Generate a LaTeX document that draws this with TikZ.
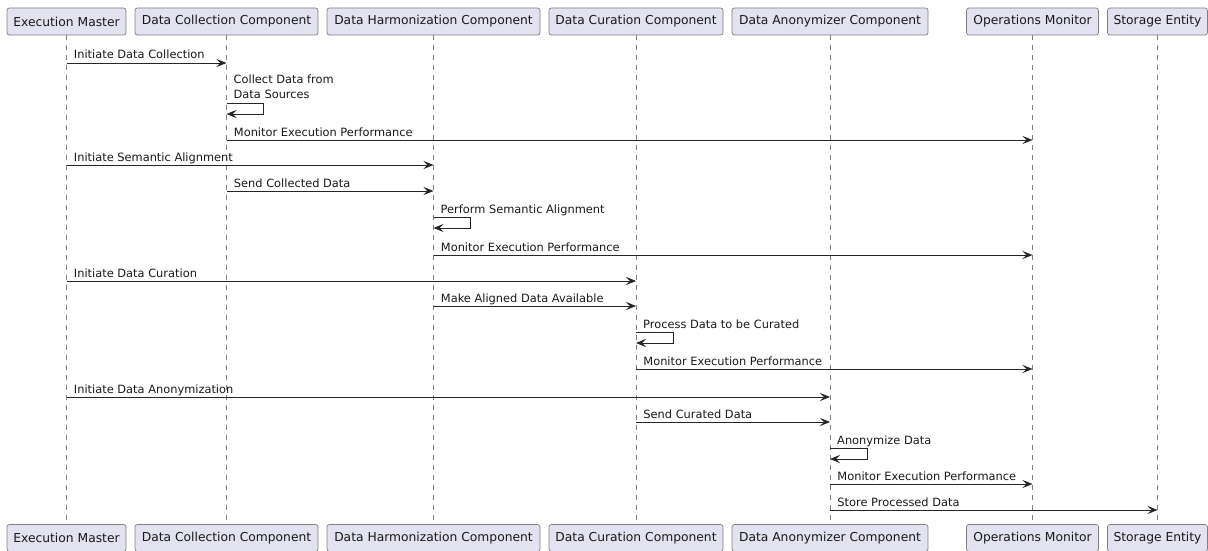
\documentclass[tikz,border=0pt]{standalone}
\usepackage{fontspec}
\setmainfont{DejaVu Sans}
\usetikzlibrary{arrows.meta,calc}
\definecolor{boxfill}{HTML}{E2E2F0}
\definecolor{boxline}{HTML}{181818}
\newcommand\sendmsg[4]{%
  \draw[msgarrow] (#1 |- 0,#3) -- (#2 |- 0,#3)
    node[lbl, pos=0, xshift=7pt, yshift=4pt] {#4};}
\newcommand\selfmsg[3]{%
  \draw[msgarrow] (#1 |- 0,#2) -- ++(37,0) -- ++(0,11) -- ++(-37,0);
  \node[lbl] at ($(#1 |- 0,#2)+(7,-4)$) {#3};}
\begin{document}
\begin{tikzpicture}[x=1pt,y=-1pt,
  part/.style={draw=boxline!55, line width=0.7pt, fill=boxfill,
    rounded corners=2.5pt, minimum height=27pt, inner sep=0pt,
    font=\fontsize{12.3}{14}\selectfont, text=black!90},
  life/.style={draw=gray, line width=0.7pt, dash pattern=on 5pt off 5pt},
  msgarrow/.style={draw=black!85, line width=0.9pt,
    -{Stealth[length=10pt,width=8pt,inset=4pt]}},
  lbl/.style={font=\fontsize{11.4}{15}\selectfont, inner sep=0pt,
    anchor=base west, text=black!90}]
\useasboundingbox (0,0) rectangle (1208,551);

% top participants
\node[part, minimum width=119pt] (em)  at (66.5,21.5)  {Execution Master};
\node[part, minimum width=183pt] (dc)  at (226.5,21.5) {Data Collection Component};
\node[part, minimum width=213pt] (dh)  at (433.5,21.5) {Data Harmonization Component};
\node[part, minimum width=174pt] (du)  at (636,21.5)   {Data Curation Component};
\node[part, minimum width=196pt] (da)  at (830,21.5)   {Data Anonymizer Component};
\node[part, minimum width=132pt] (om)  at (1032.5,21.5){Operations Monitor};
\node[part, minimum width=100pt] (se)  at (1157.5,21.5){Storage Entity};

% bottom participants
\node[part, minimum width=119pt] (emb) at (66.5,538)   {Execution Master};
\node[part, minimum width=183pt] (dcb) at (226.5,538)  {Data Collection Component};
\node[part, minimum width=213pt] (dhb) at (433.5,538)  {Data Harmonization Component};
\node[part, minimum width=174pt] (dub) at (636,538)    {Data Curation Component};
\node[part, minimum width=196pt] (dab) at (830,538)    {Data Anonymizer Component};
\node[part, minimum width=132pt] (omb) at (1032.5,538) {Operations Monitor};
\node[part, minimum width=100pt] (seb) at (1157.5,538) {Storage Entity};

% lifelines
\foreach \a/\b in {em/emb,dc/dcb,dh/dhb,du/dub,da/dab,om/omb,se/seb}
  \draw[life] (\a.south) -- (\b.north);

% messages
\sendmsg{em}{dc}{63}{Initiate Data Collection}
\selfmsg{dc}{103}{\vbox{\baselineskip=15pt\hbox{Collect Data from}\hbox{Data Sources}}}
\sendmsg{dc}{om}{140}{Monitor Execution Performance}
\sendmsg{em}{dh}{165}{Initiate Semantic Alignment}
\sendmsg{dc}{dh}{191}{Send Collected Data}
\selfmsg{dh}{217}{Perform Semantic Alignment}
\sendmsg{dh}{om}{255}{Monitor Execution Performance}
\sendmsg{em}{du}{281}{Initiate Data Curation}
\sendmsg{dh}{du}{306}{Make Aligned Data Available}
\selfmsg{du}{332}{Process Data to be Curated}
\sendmsg{du}{om}{369}{Monitor Execution Performance}
\sendmsg{em}{da}{397}{Initiate Data Anonymization}
\sendmsg{du}{da}{422}{Send Curated Data}
\selfmsg{da}{448}{Anonymize Data}
\sendmsg{da}{om}{484}{Monitor Execution Performance}
\sendmsg{da}{se}{510}{Store Processed Data}
\end{tikzpicture}
\end{document}
